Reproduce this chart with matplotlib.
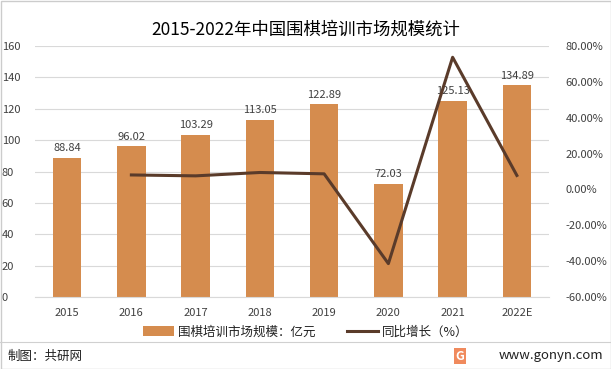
import matplotlib
matplotlib.use("Agg")
import matplotlib.pyplot as plt
from matplotlib.lines import Line2D
from matplotlib.patches import Patch
import numpy as np

plt.rcParams['font.family'] = ['Noto Sans CJK SC', 'DejaVu Sans']

years = ["2015", "2016", "2017", "2018", "2019", "2020", "2021", "2022E"]
market = [88.84, 96.02, 103.29, 113.05, 122.89, 72.03, 125.13, 134.89]
growth_years = ["2016", "2017", "2018", "2019", "2020", "2021", "2022E"]
growth = [8.08, 7.57, 9.45, 8.70, -41.39, 73.72, 7.80]
left_ticks = [0, 20, 40, 60, 80, 100, 120, 140, 160]
right_ticks = [-60, -40, -20, 0, 20, 40, 60, 80]

bar_color = "#D58C4E"
line_color = "#5A3B2A"
text_color = "#404040"

fig = plt.figure(figsize=(6.11, 3.69), dpi=100)
W, H = 611, 369
ax = fig.add_axes([35 / W, 1 - 297 / H, (549 - 35) / W, (297 - 46) / H])
x = np.arange(len(years))
ax.bar(x, market, width=0.44, color=bar_color, zorder=2)
for xi, v in zip(x, market):
    ax.text(xi, v + 3, f"{v:.2f}", ha="center", va="bottom", fontsize=8, color=text_color, zorder=4)
ax.set_xlim(-0.5, len(years) - 0.5)
ax.set_ylim(0, 160)
ax.set_yticks(left_ticks)
ax.set_yticklabels([str(t) for t in left_ticks])
ax.set_xticks(x)
ax.set_xticklabels(years)
ax.grid(axis="y", color="#D9D9D9", linewidth=0.8, zorder=0)
for s in ax.spines.values():
    s.set_visible(False)
ax.spines["bottom"].set_visible(True)
ax.spines["bottom"].set_color("#D9D9D9")
ax.tick_params(axis="both", length=0, labelsize=8, colors=text_color)
ax.tick_params(axis="y", pad=10)
ax.tick_params(axis="x", pad=8)
for lbl in ax.get_yticklabels():
    lbl.set_horizontalalignment("left")
    lbl.set_x(-0.065)
ax.tick_params(axis="y", pad=0)

ax2 = ax.twinx()
gx = [years.index(y) for y in growth_years]
ax2.plot(gx, growth, color=line_color, linewidth=2.2, zorder=3)
ax2.set_ylim(-60, 80)
ax2.set_yticks(right_ticks)
ax2.set_yticklabels([f"{t:.2f}%" for t in right_ticks])
ax2.tick_params(axis="y", length=0, labelsize=8, colors=text_color, pad=12)
for s in ax2.spines.values():
    s.set_visible(False)

fig.text(0.5, 1 - 30 / H, "2015-2022年中国围棋培训市场规模统计", ha="center", va="center",
         fontsize=12.5, color="#000000")

handles = [Patch(facecolor=bar_color, edgecolor="none"),
           Line2D([0], [0], color=line_color, linewidth=2.2)]
fig.legend(handles, ["围棋培训市场规模：亿元", "同比增长（%）"], loc="center",
           bbox_to_anchor=(0.5, 1 - 332 / H), ncol=2, frameon=False, fontsize=9,
           handlelength=2.5, handleheight=0.8, columnspacing=2.5, handletextpad=0.3,
           labelcolor="#202020")

fig.add_artist(Line2D([0, 1], [1 - 342 / H, 1 - 342 / H], color="#D0D0D0", linewidth=0.8))
fig.text(8 / W, 1 - 356 / H, "制图：共研网", ha="left", va="center", fontsize=9, color="#202020")
fig.text(603 / W, 1 - 356 / H, "www.gonyn.com", ha="right", va="center", fontsize=9.5, color="#202020")
fig.text(460 / W, 1 - 356 / H, "G", ha="center", va="center", fontsize=9, color="white",
         fontweight="bold", bbox=dict(boxstyle="square,pad=0.15", facecolor="#F08A5D", edgecolor="none"))

fig.add_artist(plt.Rectangle((0.5 / W, 0.5 / H), 1 - 1 / W, 1 - 1 / H, fill=False,
                             edgecolor="#CCCCCC", linewidth=1, transform=fig.transFigure))

fig.savefig("out.png", dpi=100)
